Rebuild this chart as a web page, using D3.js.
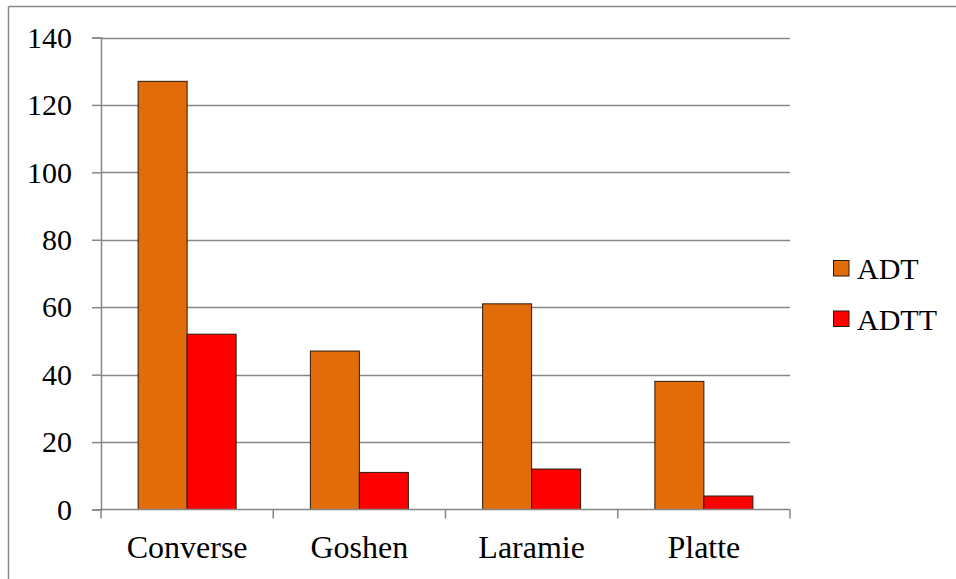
<!DOCTYPE html>
<html>
<head>
<meta charset="utf-8">
<script src="https://cdn.jsdelivr.net/npm/d3@7"></script>
</head>
<body style="margin:0">
<svg id="chart" width="956" height="579"></svg>
<script>
// Traffic counts by county
const categories = ["Converse", "Goshen", "Laramie", "Platte"];
const seriesNames = ["ADT", "ADTT"];
const adtValues = [127, 47, 61, 38];
const adttValues = [52, 11, 12, 4];
const yTicks = [0, 20, 40, 60, 80, 100, 120, 140];
const seriesColors = ["#E36C0A", "#FF0000"];

const seriesValues = [adtValues, adttValues];
const rows = categories.map((c, i) => ({
  category: c,
  values: seriesNames.map((s, j) => ({ series: s, value: seriesValues[j][i], color: seriesColors[j] }))
}));

const FONT = '"Liberation Serif"';
const svg = d3.select("#chart");
const W = 956, H = 579;
const plot = { left: 101, right: 790, top: 37.5, bottom: 509.5 };
const gridColor = "#868686";

// Chart frame (top and left edges)
svg.append("line").attr("x1", 8.5).attr("x2", W).attr("y1", 6.5).attr("y2", 6.5)
  .attr("stroke", gridColor).attr("stroke-width", 1.5);
svg.append("line").attr("x1", 8.5).attr("x2", 8.5).attr("y1", 6.5).attr("y2", H)
  .attr("stroke", gridColor).attr("stroke-width", 1.5);

const x0 = d3.scaleBand().domain(categories).range([plot.left, plot.right]).paddingInner(0).paddingOuter(0);
const barW = 49;
const x1 = d3.scaleBand().domain(seriesNames).range([0, barW * 2]);
const y = d3.scaleLinear().domain([0, 140]).range([plot.bottom, plot.top]);

// Horizontal gridlines
svg.append("g").selectAll("line").data(yTicks.filter(t => t > 0)).join("line")
  .attr("x1", plot.left).attr("x2", plot.right)
  .attr("y1", d => Math.round(y(d)) + 0.5).attr("y2", d => Math.round(y(d)) + 0.5)
  .attr("stroke", gridColor).attr("stroke-width", 1.5);

// Y axis: ticks and lines from the axis generator, labels drawn as plain text
const yAxis = svg.append("g").attr("transform", `translate(${plot.left},0)`)
  .call(d3.axisLeft(y).tickValues(yTicks).tickSize(9).tickFormat(""));
yAxis.select(".domain").attr("stroke", gridColor).attr("stroke-width", 1.5);
yAxis.selectAll(".tick line").attr("stroke", gridColor).attr("stroke-width", 1.5);
svg.append("g").selectAll("text").data(yTicks).join("text")
  .attr("x", plot.left - 29).attr("y", d => y(d)).attr("dy", "0.34em")
  .attr("text-anchor", "end")
  .style("font-family", FONT).style("font-size", "30px").style("fill", "#000")
  .text(d => d);

// Bars
const groups = svg.append("g").selectAll("g").data(rows).join("g")
  .attr("transform", d => `translate(${x0(d.category) + (x0.bandwidth() - barW * 2) / 2},0)`);
groups.selectAll("rect").data(d => d.values).join("rect")
  .attr("x", d => x1(d.series))
  .attr("y", d => y(d.value))
  .attr("width", x1.bandwidth())
  .attr("height", d => y(0) - y(d.value))
  .attr("fill", d => d.color)
  .attr("stroke", "#2a1a0a").attr("stroke-width", 1);

// X axis line with category separators
svg.append("line").attr("x1", plot.left).attr("x2", plot.right)
  .attr("y1", plot.bottom).attr("y2", plot.bottom)
  .attr("stroke", gridColor).attr("stroke-width", 1.5);
svg.append("g").selectAll("line").data(d3.range(categories.length + 1)).join("line")
  .attr("x1", i => plot.left + i * x0.bandwidth()).attr("x2", i => plot.left + i * x0.bandwidth())
  .attr("y1", plot.bottom).attr("y2", plot.bottom + 9)
  .attr("stroke", gridColor).attr("stroke-width", 1.5);
svg.append("g").selectAll("text").data(categories).join("text")
  .attr("x", d => x0(d) + x0.bandwidth() / 2).attr("y", plot.bottom + 48)
  .attr("text-anchor", "middle")
  .style("font-family", FONT).style("font-size", "32px").style("fill", "#000")
  .text(d => d);

// Legend
const legend = svg.append("g").attr("transform", "translate(833,260)");
const items = legend.selectAll("g").data(seriesNames).join("g")
  .attr("transform", (d, i) => `translate(0,${i * 50.5})`);
items.append("rect").attr("x", 0.5).attr("y", 0.5).attr("width", 15.5).attr("height", 15.5)
  .attr("fill", (d, i) => seriesColors[i]).attr("stroke", "#2a1a0a").attr("stroke-width", 1);
items.append("text").attr("x", 24).attr("y", 19).text(d => d)
  .style("font-family", FONT).style("font-size", "30px").style("fill", "#000");
</script>
</body>
</html>
